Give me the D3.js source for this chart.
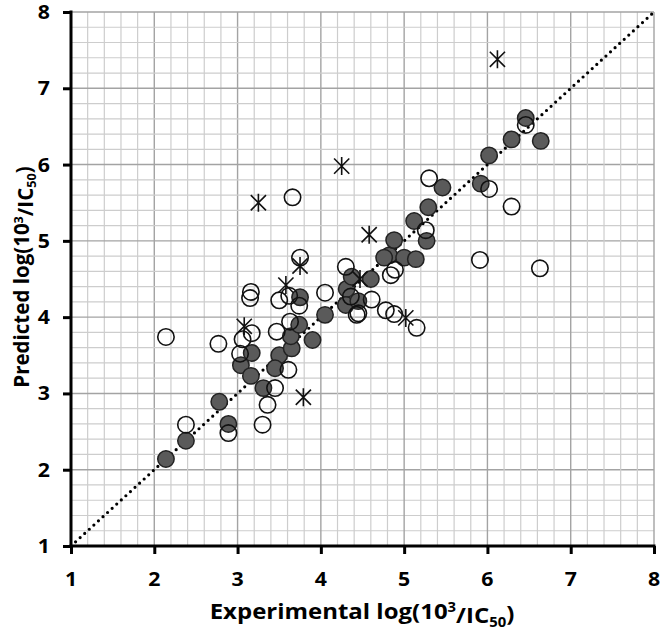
<!DOCTYPE html>
<html><head><meta charset="utf-8">
<script src="https://cdn.jsdelivr.net/npm/d3@7"></script>
<style>body{margin:0;background:#fff}svg{display:block}</style>
</head><body>
<svg id="c" width="662" height="633"></svg>
<script>
const ticks = [1,2,3,4,5,6,7,8];
const trainX = [2.14,2.38,2.78,2.89,3.04,3.17,3.16,3.31,3.50,3.45,3.65,3.64,3.74,3.75,3.90,4.05,4.31,4.37,4.30,4.45,4.60,4.82,4.76,5.00,5.14,4.88,5.27,5.12,5.29,5.46,5.92,6.02,6.29,6.46,6.64];
const trainY = [2.14,2.38,2.89,2.60,3.37,3.53,3.23,3.07,3.50,3.33,3.59,3.75,3.90,4.26,3.70,4.03,4.37,4.53,4.16,4.21,4.50,4.81,4.78,4.78,4.76,5.01,5.00,5.26,5.44,5.70,5.75,6.12,6.33,6.61,6.31];
const testX = [2.14,2.77,2.38,2.89,3.06,3.17,3.03,3.15,3.16,3.75,3.50,3.74,3.62,4.05,4.30,4.43,3.47,3.63,3.61,3.45,3.36,3.30,5.30,5.26,4.84,4.89,4.61,4.45,4.78,4.88,5.15,5.91,4.36,6.02,6.29,6.63,6.46,3.66];
const testY = [3.74,3.65,2.59,2.48,3.71,3.79,3.52,4.25,4.33,4.78,4.22,4.15,4.28,4.32,4.66,4.03,3.81,3.94,3.31,3.07,2.85,2.59,5.82,5.14,4.55,4.62,4.23,4.05,4.09,4.04,3.86,4.75,4.27,5.68,5.45,4.64,6.52,5.57];
const outX = [6.12,4.25,3.25,4.58,3.75,3.58,3.08,3.79,5.02,4.47];
const outY = [7.38,5.98,5.50,5.08,4.67,4.42,3.88,2.95,3.99,4.50];

const L=71,R=654,T=12,B=546;
const x = d3.scaleLinear().domain([1,8]).range([L,R]);
const y = d3.scaleLinear().domain([1,8]).range([B,T]);
const svg = d3.select('#c');
const FONT = "'Open Sans', sans-serif";

// grid
const minor = d3.range(1,8.0001,0.2).map(v=>+v.toFixed(1));
const g = svg.append('g');
minor.forEach(v=>{
  const major = Math.abs(v-Math.round(v))<1e-6;
  g.append('line').attr('x1',x(v)).attr('x2',x(v)).attr('y1',T).attr('y2',B)
    .attr('stroke',major?'#a3a3a3':'#cdcdcd').attr('stroke-width',major?1.4:1.2);
  g.append('line').attr('y1',y(v)).attr('y2',y(v)).attr('x1',L).attr('x2',R)
    .attr('stroke',major?'#a3a3a3':'#cdcdcd').attr('stroke-width',major?1.4:1.2);
});

// diagonal
svg.append('line').attr('x1',x(1)).attr('y1',y(1)).attr('x2',x(8)).attr('y2',y(8))
  .attr('stroke','#000').attr('stroke-width',3.2).attr('stroke-linecap','round')
  .attr('stroke-dasharray','0,6.2');

// axes
const xa = svg.append('g').attr('transform',`translate(0,${B})`)
  .call(d3.axisBottom(x).tickValues(ticks).tickSize(8).tickFormat(''));
const ya = svg.append('g').attr('transform',`translate(${L},0)`)
  .call(d3.axisLeft(y).tickValues(ticks).tickSize(8).tickFormat(''));
[xa,ya].forEach(a=>{a.selectAll('path,line').attr('stroke','#000').attr('stroke-width',3);});
xa.select('.domain').attr('d',`M${L-1.5},0H${R+1.5}`);
ya.select('.domain').attr('d',`M0,${B+1.5}V${T-1.5}`);

// tick labels
ticks.forEach(t=>{
  svg.append('text').attr('transform',`translate(${x(t)},586) scale(1.12,1)`).attr('text-anchor','middle')
    .attr('font-family',FONT).attr('font-weight','bold').attr('font-size',19).attr('fill','#000').text(t);
  svg.append('text').attr('transform',`translate(50,${y(t)+7}) scale(1.12,1)`).attr('text-anchor','end')
    .attr('font-family',FONT).attr('font-weight','bold').attr('font-size',19).attr('fill','#000').text(t);
});

// markers
svg.append('g').selectAll('circle').data(trainX).join('circle')
  .attr('cx',(d)=>x(d)).attr('cy',(d,i)=>y(trainY[i])).attr('r',8.2)
  .attr('fill','#5a5a5a').attr('stroke','#222').attr('stroke-width',1.5);
svg.append('g').selectAll('circle').data(testX).join('circle')
  .attr('cx',(d)=>x(d)).attr('cy',(d,i)=>y(testY[i])).attr('r',8.2)
  .attr('fill','none').attr('stroke','#111').attr('stroke-width',1.6);
const a=7.6, v=9;
const star = `M${-a},${-a}L${a},${a}M${-a},${a}L${a},${-a}M0,${-v}V${v}`;
svg.append('g').selectAll('path').data(outX).join('path')
  .attr('transform',(d,i)=>`translate(${x(d)},${y(outY[i])})`)
  .attr('d',star).attr('stroke','#111').attr('stroke-width',1.6).attr('fill','none');

// axis titles
function title(sel, base){
  sel.append('tspan').text(base+'log(10');
  sel.append('tspan').attr('font-size','0.62em').attr('dy','-0.5em').text('3');
  sel.append('tspan').attr('dy','0.5em').text('/IC');
  sel.append('tspan').attr('font-size','0.62em').attr('dy','0.25em').text('50');
  sel.append('tspan').attr('dy','-0.25em').text(')');
}
const xt = svg.append('text').attr('transform','translate(362,619) scale(1.09,1)').attr('text-anchor','middle')
  .attr('font-family',FONT).attr('font-weight','bold').attr('font-size',22).attr('fill','#000');
title(xt,'Experimental ');
const yt = svg.append('text').attr('transform','translate(29,277) rotate(-90)').attr('text-anchor','middle')
  .attr('font-family',FONT).attr('font-weight','bold').attr('font-size',20.5).attr('fill','#000');
title(yt,'Predicted ');
</script>
</body></html>
